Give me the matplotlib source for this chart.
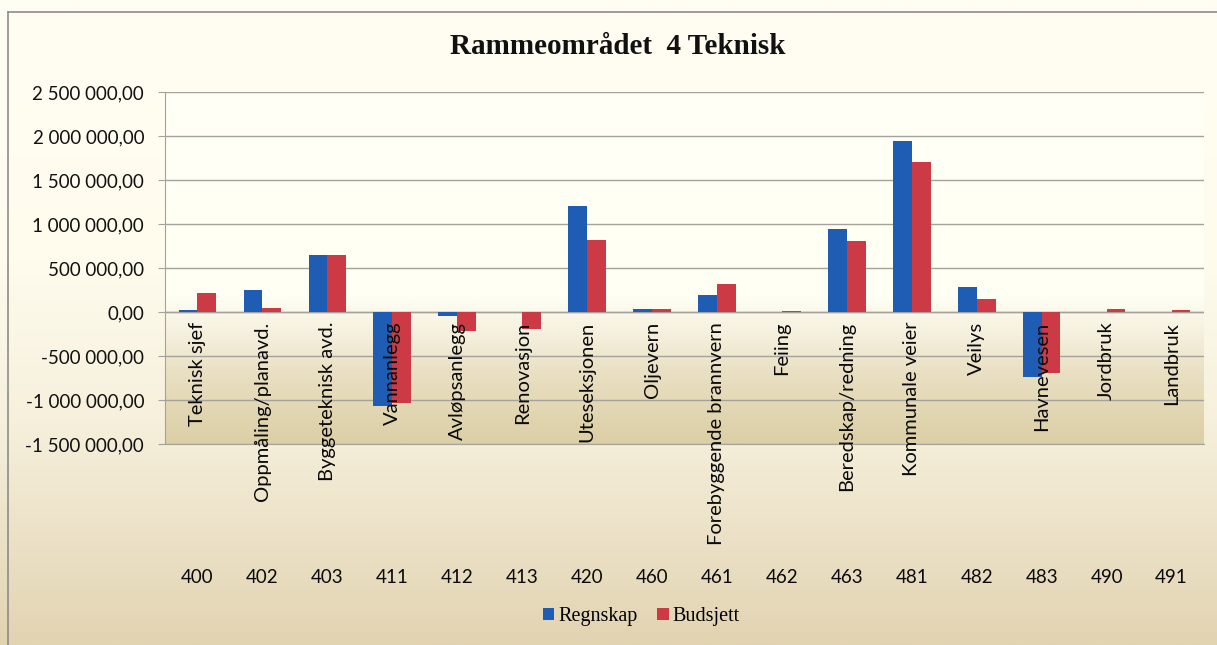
import numpy as np
import matplotlib

matplotlib.use("Agg")
import matplotlib.pyplot as plt
from matplotlib.colors import LinearSegmentedColormap
from matplotlib.ticker import FuncFormatter, MultipleLocator

# data
codes = ["400", "402", "403", "411", "412", "413", "420", "460",
         "461", "462", "463", "481", "482", "483", "490", "491"]
names = ["Teknisk sjef", "Oppmåling/planavd.", "Byggeteknisk avd.", "Vannanlegg",
         "Avløpsanlegg", "Renovasjon", "Uteseksjonen", "Oljevern",
         "Forebyggende brannvern", "Feiing", "Beredskap/redning", "Kommunale veier",
         "Veilys", "Havnevesen", "Jordbruk", "Landbruk"]
regnskap = [27000, 246000, 651000, -1065000, -45000, 0, 1210000, 32000,
            190000, 0, 945000, 1945000, 280000, -740000, 5000, 0]
budsjett = [215000, 50000, 650000, -1030000, -215000, -188000, 813000, 30000,
            320000, 15000, 810000, 1700000, 150000, -690000, 30000, 25000]

BLUE = "#1f5db4"
RED = "#cc3b45"
GRID = "#a4a29a"
SANS = ["Lato", "DejaVu Sans"]
SERIF = ["Liberation Serif", "DejaVu Serif"]

fig = plt.figure(figsize=(12.17, 6.45), dpi=100)

# figure background gradient (cream -> beige)
bg = fig.add_axes([0, 0, 1, 1], zorder=-10)
bg_cmap = LinearSegmentedColormap.from_list(
    "bg", [(0.0, "#e2d3b1"), (0.15, "#ebe0c5"), (0.35, "#f6f0dc"), (0.6, "#fffcee"), (1.0, "#fffef3")])
bg.imshow(np.linspace(1, 0, 256).reshape(-1, 1), cmap=bg_cmap, aspect="auto",
          extent=[0, 1, 0, 1], vmin=0, vmax=1)
bg.set_xlim(0, 1)
bg.set_ylim(0, 1)
bg.axis("off")
# chart frame (left and top edges visible in the scan)
bg.plot([8 / 1217, 8 / 1217], [0, 1 - 12 / 645], color="#8c8c8c", lw=1.2)
bg.plot([8 / 1217, 1], [1 - 12 / 645, 1 - 12 / 645], color="#8c8c8c", lw=1.2)

ax = fig.add_axes([165 / 1217, 1 - 444 / 645, 1039 / 1217, 352 / 645])
ax.set_facecolor("none")

x = np.arange(len(codes))
w = 0.29
ymin, ymax = -1500000, 2500000
ax.set_xlim(-0.5, len(codes) - 0.5)
ax.set_ylim(ymin, ymax)

# plot area gradient
pa_cmap = LinearSegmentedColormap.from_list(
    "pa", [(0.0, "#dccfa6"), (0.2, "#e9dfc2"), (0.3, "#f4eedb"), (0.42, "#fffff4"), (1.0, "#fffff6")])
ax.imshow(np.linspace(1, 0, 256).reshape(-1, 1), cmap=pa_cmap, aspect="auto",
          extent=[-0.5, len(codes) - 0.5, ymin, ymax], vmin=0, vmax=1, zorder=0)

ax.bar(x - w / 2, regnskap, w, color=BLUE, zorder=3, label="Regnskap")
ax.bar(x + w / 2, budsjett, w, color=RED, zorder=3, label="Budsjett")

ax.yaxis.set_major_locator(MultipleLocator(500000))
ax.yaxis.set_major_formatter(FuncFormatter(
    lambda v, _: f"{v:,.2f}".replace(",", " ").replace(".", ",")))
ax.grid(axis="y", color=GRID, lw=1.0, zorder=1)
ax.set_axisbelow(True)
ax.axhline(0, color=GRID, lw=1.0, zorder=2)
for side in ["top", "right"]:
    ax.spines[side].set_visible(False)
ax.spines["left"].set_color(GRID)
ax.spines["bottom"].set_color(GRID)
ax.tick_params(axis="y", length=5, color=GRID, labelsize=13.5, pad=10)
ax.tick_params(axis="x", length=0, labelbottom=False)
for lbl in ax.get_yticklabels():
    lbl.set_family(SANS)
    lbl.set_color("#111111")

# category names hang from the zero line, codes underneath
for i in x:
    ax.annotate(names[i], xy=(i, 0), xytext=(0, -7), textcoords="offset points",
                rotation=90, ha="center", va="top", fontsize=14.5, family=SANS,
                color="#0a0a0a", zorder=4, annotation_clip=False)
    ax.text(i, -0.38, codes[i], transform=ax.get_xaxis_transform(), ha="center",
            va="center", fontsize=13.5, family=SANS, color="#0a0a0a")

fig.text(0.508, 1 - 47 / 645, "Rammeområdet  4 Teknisk", ha="center", va="center",
         fontsize=21, fontweight="bold", family=SERIF, color="#111111")

fig.legend(loc="center", bbox_to_anchor=(0.527, 1 - 617 / 645), ncol=2, frameon=False,
           handlelength=0.55, handleheight=0.55, handletextpad=0.2, columnspacing=1.0,
           prop={"family": SERIF, "size": 14.5})

fig.savefig("out.png", dpi=100)
